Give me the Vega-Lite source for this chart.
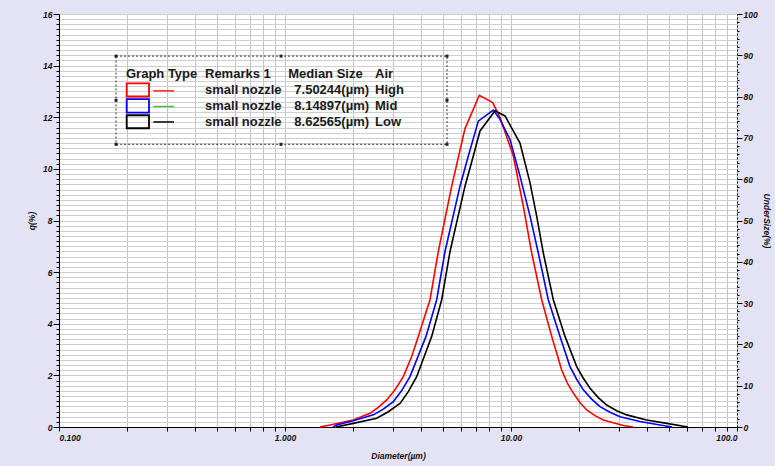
{
  "$schema": "https://vega.github.io/schema/vega-lite/v6.json",
  "width": 678,
  "height": 413,
  "autosize": {"type": "none"},
  "padding": {"left": 59, "top": 14, "right": 38, "bottom": 39},
  "background": "#e3e3f5",
  "view": {"stroke": null, "fill": "white"},
  "config": {
    "axis": {
      "labelFont": "Liberation Sans",
      "labelFontStyle": "italic",
      "labelFontWeight": "bold",
      "labelFontSize": 8.5,
      "labelColor": "#111",
      "titleFont": "Liberation Sans",
      "titleFontStyle": "italic",
      "titleFontWeight": "bold",
      "titleFontSize": 8.5,
      "titleColor": "#111",
      "domainColor": "#000",
      "tickColor": "#000",
      "labelOverlap": false
    }
  },
  "datasets": {
    "curves": [
      {"x": 1.428, "q": 0, "s": "High"}, {"x": 1.582, "q": 0.08, "s": "High"}, {"x": 2.005, "q": 0.27, "s": "High"}, {"x": 2.377, "q": 0.53, "s": "High"}, {"x": 2.587, "q": 0.76, "s": "High"}, {"x": 2.818, "q": 1.05, "s": "High"}, {"x": 3.067, "q": 1.44, "s": "High"}, {"x": 3.338, "q": 1.95, "s": "High"}, {"x": 3.636, "q": 2.73, "s": "High"}, {"x": 3.889, "q": 3.51, "s": "High"}, {"x": 4.381, "q": 4.93, "s": "High"}, {"x": 4.769, "q": 6.8, "s": "High"}, {"x": 5.465, "q": 9.33, "s": "High"}, {"x": 6.258, "q": 11.56, "s": "High"}, {"x": 7.24, "q": 12.85, "s": "High"}, {"x": 8.299, "q": 12.57, "s": "High"}, {"x": 8.939, "q": 11.99, "s": "High"}, {"x": 10.24, "q": 10.5, "s": "High"}, {"x": 11.34, "q": 8.55, "s": "High"}, {"x": 12.35, "q": 6.74, "s": "High"}, {"x": 13.67, "q": 4.93, "s": "High"}, {"x": 15.14, "q": 3.51, "s": "High"}, {"x": 16.76, "q": 2.21, "s": "High"}, {"x": 17.76, "q": 1.7, "s": "High"}, {"x": 18.87, "q": 1.31, "s": "High"}, {"x": 20.2, "q": 0.94, "s": "High"}, {"x": 21.63, "q": 0.66, "s": "High"}, {"x": 23.54, "q": 0.44, "s": "High"}, {"x": 25.61, "q": 0.27, "s": "High"}, {"x": 31.4, "q": 0.06, "s": "High"}, {"x": 34.66, "q": 0, "s": "High"},
      {"x": 1.631, "q": 0, "s": "Mid"}, {"x": 1.694, "q": 0.08, "s": "Mid"}, {"x": 2.005, "q": 0.24, "s": "Mid"}, {"x": 2.459, "q": 0.47, "s": "Mid"}, {"x": 2.723, "q": 0.69, "s": "Mid"}, {"x": 3.015, "q": 0.98, "s": "Mid"}, {"x": 3.284, "q": 1.41, "s": "Mid"}, {"x": 3.573, "q": 1.95, "s": "Mid"}, {"x": 4.206, "q": 3.51, "s": "Mid"}, {"x": 4.691, "q": 4.93, "s": "Mid"}, {"x": 5.105, "q": 6.8, "s": "Mid"}, {"x": 5.948, "q": 9.33, "s": "Mid"}, {"x": 6.474, "q": 10.5, "s": "Mid"}, {"x": 7.166, "q": 11.85, "s": "Mid"}, {"x": 8.35, "q": 12.28, "s": "Mid"}, {"x": 8.939, "q": 11.92, "s": "Mid"}, {"x": 9.899, "q": 11.14, "s": "Mid"}, {"x": 10.96, "q": 9.72, "s": "Mid"}, {"x": 12.14, "q": 8.17, "s": "Mid"}, {"x": 13.21, "q": 6.74, "s": "Mid"}, {"x": 14.62, "q": 4.93, "s": "Mid"}, {"x": 16.48, "q": 3.51, "s": "Mid"}, {"x": 18.24, "q": 2.34, "s": "Mid"}, {"x": 19.53, "q": 1.85, "s": "Mid"}, {"x": 20.89, "q": 1.44, "s": "Mid"}, {"x": 22.75, "q": 1.08, "s": "Mid"}, {"x": 24.76, "q": 0.79, "s": "Mid"}, {"x": 27.42, "q": 0.57, "s": "Mid"}, {"x": 30.36, "q": 0.4, "s": "Mid"}, {"x": 37.23, "q": 0.21, "s": "Mid"}, {"x": 45.63, "q": 0.08, "s": "Mid"}, {"x": 51.58, "q": 0, "s": "Mid"},
      {"x": 1.682, "q": 0, "s": "Low"}, {"x": 2.005, "q": 0.14, "s": "Low"}, {"x": 2.546, "q": 0.34, "s": "Low"}, {"x": 2.865, "q": 0.59, "s": "Low"}, {"x": 3.228, "q": 0.91, "s": "Low"}, {"x": 3.513, "q": 1.37, "s": "Low"}, {"x": 3.825, "q": 1.95, "s": "Low"}, {"x": 4.458, "q": 3.51, "s": "Low"}, {"x": 4.936, "q": 4.93, "s": "Low"}, {"x": 5.372, "q": 6.8, "s": "Low"}, {"x": 6.258, "q": 9.33, "s": "Low"}, {"x": 6.812, "q": 10.5, "s": "Low"}, {"x": 7.293, "q": 11.47, "s": "Low"}, {"x": 8.496, "q": 12.25, "s": "Low"}, {"x": 9.408, "q": 12.05, "s": "Low"}, {"x": 10.96, "q": 11.0, "s": "Low"}, {"x": 12.14, "q": 9.46, "s": "Low"}, {"x": 12.99, "q": 8.17, "s": "Low"}, {"x": 13.9, "q": 6.74, "s": "Low"}, {"x": 15.39, "q": 4.93, "s": "Low"}, {"x": 17.34, "q": 3.51, "s": "Low"}, {"x": 19.53, "q": 2.34, "s": "Low"}, {"x": 20.89, "q": 1.89, "s": "Low"}, {"x": 22.37, "q": 1.5, "s": "Low"}, {"x": 24.34, "q": 1.14, "s": "Low"}, {"x": 26.51, "q": 0.85, "s": "Low"}, {"x": 29.36, "q": 0.63, "s": "Low"}, {"x": 32.51, "q": 0.47, "s": "Low"}, {"x": 39.84, "q": 0.27, "s": "Low"}, {"x": 48.87, "q": 0.14, "s": "Low"}, {"x": 60.71, "q": 0, "s": "Low"}
    ],
    "frame": [{"x": 0.1788, "x2": 5.21, "y1": 14.369, "y2": 10.951}],
    "handles": [
      {"x": 0.1788, "hy": 14.369}, {"x": 0.9601, "hy": 14.369}, {"x": 5.21, "hy": 14.369},
      {"x": 0.1788, "hy": 12.66}, {"x": 5.21, "hy": 12.66},
      {"x": 0.1788, "hy": 10.951}, {"x": 0.9601, "hy": 10.951}, {"x": 5.21, "hy": 10.951}
    ],
    "boxes": [
      {"x": 0.1993, "x2": 0.2502, "y1": 13.309, "y2": 12.804, "s": "High"},
      {"x": 0.1993, "x2": 0.2502, "y1": 12.699, "y2": 12.183, "s": "Mid"},
      {"x": 0.1993, "x2": 0.2502, "y1": 12.078, "y2": 11.573, "s": "Low"}
    ],
    "swatches": [
      {"x": 0.2615, "x2": 0.3227, "y": 13.022, "s": "High"},
      {"x": 0.2615, "x2": 0.3227, "y": 12.416, "s": "Mid"},
      {"x": 0.2615, "x2": 0.3227, "y": 11.817, "s": "Low"}
    ],
    "cells": [
      {"x": 0.1979, "y": 13.534, "t": "Graph Type"},
      {"x": 0.4426, "y": 13.534, "t": "Remarks 1"},
      {"x": 1.034, "y": 13.534, "t": "Median Size"},
      {"x": 2.502, "y": 13.534, "t": "Air"},
      {"x": 0.4426, "y": 12.913, "t": "small nozzle"},
      {"x": 1.0996, "y": 12.913, "t": "7.50244(µm)"},
      {"x": 2.502, "y": 12.913, "t": "High"},
      {"x": 0.4426, "y": 12.291, "t": "small nozzle"},
      {"x": 1.0996, "y": 12.291, "t": "8.14897(µm)"},
      {"x": 2.502, "y": 12.291, "t": "Mid"},
      {"x": 0.4426, "y": 11.67, "t": "small nozzle"},
      {"x": 1.0996, "y": 11.67, "t": "8.62565(µm)"},
      {"x": 2.502, "y": 11.67, "t": "Low"}
    ]
  },
  "encoding": {
    "x": {
      "field": "x", "type": "quantitative",
      "scale": {"type": "log", "domain": [0.1, 100], "nice": false},
      "axis": {
        "title": "Diameter(µm)",
        "values": [0.1, 0.2, 0.3, 0.4, 0.5, 0.6, 0.7, 0.8, 0.9, 1, 2, 3, 4, 5, 6, 7, 8, 9, 10, 20, 30, 40, 50, 60, 70, 80, 90, 100],
        "labelExpr": "datum.value == 0.1 ? '0.100' : datum.value == 1 ? '1.000' : datum.value == 10 ? '10.00' : datum.value == 100 ? '100.0' : ''",
        "grid": true,
        "gridColor": "#c4c4c4",
        "gridWidth": 1,
        "tickSize": 4,
        "labelPadding": 2,
        "titlePadding": 10
      }
    }
  },
  "resolve": {"axis": {"y": "independent"}},
  "layer": [
    {
      "data": {"name": "curves"},
      "mark": {"type": "line", "strokeWidth": 1.6},
      "encoding": {
        "y": {
          "field": "q", "type": "quantitative",
          "scale": {"domain": [0, 16], "nice": false},
          "axis": {
            "title": "q(%)",
            "orient": "left",
            "values": [0, 0.2, 0.4, 0.6, 0.8, 1, 1.2, 1.4, 1.6, 1.8, 2, 2.2, 2.4, 2.6, 2.8, 3, 3.2, 3.4, 3.6, 3.8, 4, 4.2, 4.4, 4.6, 4.8, 5, 5.2, 5.4, 5.6, 5.8, 6, 6.2, 6.4, 6.6, 6.8, 7, 7.2, 7.4, 7.6, 7.8, 8, 8.2, 8.4, 8.6, 8.8, 9, 9.2, 9.4, 9.6, 9.8, 10, 10.2, 10.4, 10.6, 10.8, 11, 11.2, 11.4, 11.6, 11.8, 12, 12.2, 12.4, 12.6, 12.8, 13, 13.2, 13.4, 13.6, 13.8, 14, 14.2, 14.4, 14.6, 14.8, 15, 15.2, 15.4, 15.6, 15.8, 16],
            "labelExpr": "datum.value % 2 == 0 ? format(datum.value, 'd') : ''",
            "tickSize": {"condition": {"test": "datum.value % 2 == 0", "value": 6}, "value": 3},
            "grid": true,
            "gridColor": "#cfcfcf",
            "gridWidth": 1,
            "labelPadding": 1,
            "titlePadding": 6
          }
        },
        "color": {
          "field": "s", "type": "nominal", "legend": null,
          "scale": {"domain": ["High", "Mid", "Low"], "range": ["#ff0000", "#0000ff", "#000000"]}
        }
      }
    },
    {
      "data": {"name": "frame"},
      "mark": {"type": "rect", "fill": "transparent", "stroke": "#333", "strokeWidth": 1, "strokeDash": [2, 2]},
      "encoding": {
        "x2": {"field": "x2"},
        "y": {
          "field": "y1", "type": "quantitative",
          "axis": {
            "title": "UnderSize(%)",
            "orient": "right",
            "values": [0, 0.32, 0.64, 0.96, 1.28, 1.6, 1.92, 2.24, 2.56, 2.88, 3.2, 3.52, 3.84, 4.16, 4.48, 4.8, 5.12, 5.44, 5.76, 6.08, 6.4, 6.72, 7.04, 7.36, 7.68, 8, 8.32, 8.64, 8.96, 9.28, 9.6, 9.92, 10.24, 10.56, 10.88, 11.2, 11.52, 11.84, 12.16, 12.48, 12.8, 13.12, 13.44, 13.76, 14.08, 14.4, 14.72, 15.04, 15.36, 15.68, 16],
            "labelExpr": "round(datum.value * 6.25) % 10 == 0 ? '' + round(datum.value * 6.25) : ''",
            "tickSize": {"condition": {"test": "round(datum.value * 6.25) % 10 == 0", "value": 5}, "value": 2},
            "domainDash": [2, 2],
            "grid": false,
            "labelPadding": 1,
            "titlePadding": 4
          }
        },
        "y2": {"field": "y2"}
      }
    },
    {
      "data": {"name": "handles"},
      "mark": {"type": "point", "shape": "square", "filled": true, "size": 9, "color": "#222", "opacity": 1},
      "encoding": {
        "y": {"field": "hy", "type": "quantitative", "axis": null}
      }
    },
    {
      "data": {"name": "boxes"},
      "mark": {"type": "rect", "filled": false, "strokeWidth": 1.8},
      "encoding": {
        "x2": {"field": "x2"},
        "y": {"field": "y1", "type": "quantitative", "axis": null},
        "y2": {"field": "y2"},
        "color": {"field": "s", "type": "nominal", "legend": null}
      }
    },
    {
      "data": {"name": "swatches"},
      "mark": {"type": "rule", "strokeWidth": 1.5},
      "encoding": {
        "x2": {"field": "x2"},
        "y": {"field": "y", "type": "quantitative", "axis": null},
        "stroke": {
          "field": "s", "type": "nominal", "legend": null,
          "scale": {"domain": ["High", "Mid", "Low"], "range": ["#ff2020", "#40c040", "#000000"]}
        }
      }
    },
    {
      "data": {"name": "cells"},
      "mark": {"type": "text", "align": "left", "baseline": "alphabetic", "font": "Liberation Sans", "fontSize": 13, "fontWeight": "bold", "color": "#1a1a1a"},
      "encoding": {
        "y": {"field": "y", "type": "quantitative", "axis": null},
        "text": {"field": "t", "type": "nominal"}
      }
    }
  ]
}
